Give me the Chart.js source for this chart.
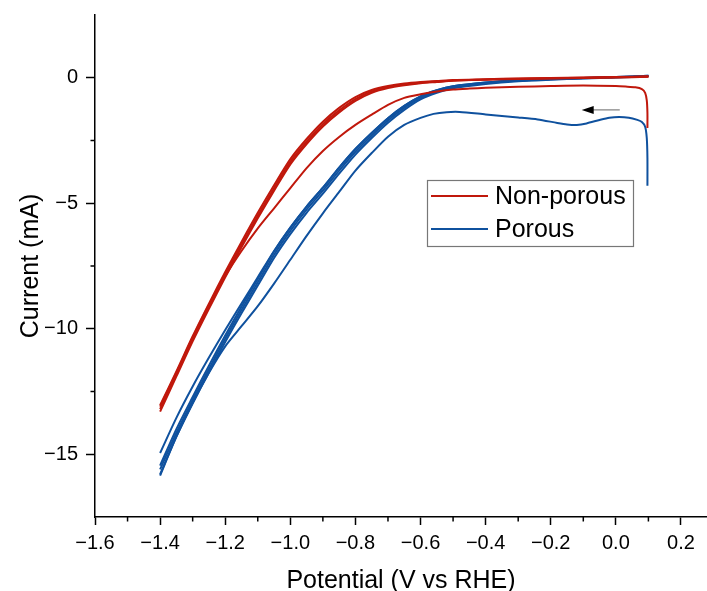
<!DOCTYPE html>
<html>
<head>
<meta charset="utf-8">
<script src="https://cdn.jsdelivr.net/npm/chart.js@4/dist/chart.umd.min.js"></script>
<style>
  html, body { margin: 0; padding: 0; background: #fff; overflow: hidden; }
</style>
</head>
<body>
<canvas id="cvChart" width="707" height="591"></canvas>
<script>
// ---- data (potential in V vs RHE, current in mA) ----
const seriesNames = ["Non-porous", "Porous"];

const xTicks = [-1.6, -1.4, -1.2, -1.0, -0.8, -0.6, -0.4, -0.2, 0.0, 0.2];
const xMinor = [-1.5, -1.3, -1.1, -0.9, -0.7, -0.5, -0.3, -0.1, 0.1];
const yTicks = [0, -5, -10, -15];
const yMinor = [-2.5, -7.5, -12.5];

// common potential grid for the repeated cycles
const sweepV = [0.1, 0.0, -0.1, -0.2, -0.3, -0.4, -0.5, -0.55, -0.6, -0.65, -0.7, -0.75,
  -0.8, -0.85, -0.9, -0.95, -1.0, -1.05, -1.1, -1.15, -1.2, -1.25, -1.3, -1.35, -1.4];

// Non-porous, later cycles
const redCycleA = [0.05, 0.02, 0.0, -0.02, -0.04, -0.07, -0.11, -0.15, -0.2, -0.27, -0.37, -0.55,
  -0.85, -1.3, -1.85, -2.55, -3.35, -4.4, -5.5, -6.65, -7.85, -9.1, -10.4, -11.8, -13.2];
const redCycleB = [0.06, 0.03, 0.01, -0.01, -0.03, -0.06, -0.09, -0.13, -0.17, -0.23, -0.33, -0.49,
  -0.77, -1.2, -1.75, -2.44, -3.24, -4.28, -5.38, -6.54, -7.74, -9.0, -10.3, -11.7, -13.05];
const redCycleC = [0.04, 0.01, -0.01, -0.03, -0.05, -0.08, -0.12, -0.17, -0.22, -0.3, -0.41, -0.6,
  -0.92, -1.38, -1.94, -2.64, -3.45, -4.5, -5.6, -6.75, -7.95, -9.2, -10.5, -11.9, -13.3];

// Non-porous, first scan
const redFirstV = [0.097, 0.097, 0.095, 0.09, 0.08, 0.06, 0.03, 0.0, -0.1, -0.2, -0.3, -0.4, -0.45,
  -0.5, -0.55, -0.6, -0.65, -0.7, -0.75, -0.8, -0.85, -0.9, -0.95, -1.0, -1.05, -1.1, -1.15,
  -1.2, -1.25, -1.3, -1.35, -1.4];
const redFirstI = [-2.0, -1.4, -0.9, -0.6, -0.45, -0.38, -0.35, -0.33, -0.31, -0.33, -0.36, -0.4, -0.43,
  -0.47, -0.55, -0.66, -0.8, -1.08, -1.47, -1.88, -2.36, -2.92, -3.6, -4.4, -5.2, -6.0, -6.9,
  -7.9, -9.05, -10.35, -11.75, -13.1];

// Porous, later cycles
const blueCycleA = [0.07, 0.02, -0.02, -0.06, -0.12, -0.22, -0.38, -0.55, -0.8, -1.2, -1.7, -2.3,
  -2.95, -3.7, -4.5, -5.25, -6.1, -7.05, -8.15, -9.25, -10.4, -11.6, -12.85, -14.15, -15.6];
const blueCycleB = [0.08, 0.03, -0.01, -0.05, -0.1, -0.19, -0.34, -0.5, -0.74, -1.12, -1.61, -2.2,
  -2.84, -3.58, -4.38, -5.13, -5.97, -6.92, -8.02, -9.12, -10.27, -11.47, -12.72, -14.0, -15.45];
const blueCycleC = [0.06, 0.01, -0.03, -0.08, -0.14, -0.25, -0.42, -0.6, -0.86, -1.28, -1.79, -2.4,
  -3.06, -3.82, -4.62, -5.38, -6.23, -7.18, -8.28, -9.38, -10.53, -11.73, -12.98, -14.3, -15.85];
const blueReturn = [0.08, 0.03, -0.01, -0.05, -0.1, -0.19, -0.34, -0.5, -0.74, -1.12, -1.61, -2.2,
  -2.84, -3.58, -4.38, -5.13, -5.97, -6.9, -7.95, -9.0, -10.05, -11.15, -12.3, -13.55, -14.95];

// Porous, first scan
const blueFirstV = [0.097, 0.097, 0.095, 0.09, 0.08, 0.066, 0.04, 0.01, -0.02, -0.05, -0.09, -0.12,
  -0.15, -0.18, -0.24, -0.3, -0.4, -0.48, -0.52, -0.56, -0.6, -0.65, -0.7, -0.75, -0.8, -0.85,
  -0.9, -0.95, -1.0, -1.05, -1.1, -1.15, -1.2, -1.25, -1.3, -1.35, -1.4];
const blueFirstI = [-4.3, -3.2, -2.4, -1.95, -1.76, -1.68, -1.59, -1.56, -1.59, -1.68, -1.82, -1.88,
  -1.86, -1.8, -1.66, -1.58, -1.46, -1.36, -1.37, -1.44, -1.6, -1.88, -2.35, -3.0, -3.7, -4.55,
  -5.4, -6.3, -7.25, -8.2, -9.1, -9.9, -10.7, -11.75, -12.95, -14.3, -15.8];

// scan direction arrow (start, end) in data units
const arrowFrom = [0.012, -1.28];
const arrowTo = [-0.105, -1.28];

const RED = "#c0180c";
const BLUE = "#0f519e";

const toPts = (xs, ys) => xs.map((v, i) => ({ x: v, y: ys[i] }));
const minus = (s) => s.replace("-", "\u2212");

const line = (data, color, group) => ({
  label: group,
  data,
  borderColor: color,
  borderWidth: 2,
  pointRadius: 0,
  fill: false,
  tension: 0.25,
});

const datasets = [
  line(toPts(sweepV, redCycleA), RED, seriesNames[0]),
  line(toPts(sweepV, redCycleB), RED, seriesNames[0]),
  line(toPts(sweepV, redCycleC), RED, seriesNames[0]),
  line(toPts(redFirstV, redFirstI), RED, seriesNames[0]),
  line(toPts(sweepV, blueCycleA), BLUE, seriesNames[1]),
  line(toPts(sweepV, blueCycleB), BLUE, seriesNames[1]),
  line(toPts(sweepV, blueCycleC), BLUE, seriesNames[1]),
  line(toPts(sweepV, blueReturn), BLUE, seriesNames[1]),
  line(toPts(blueFirstV, blueFirstI), BLUE, seriesNames[1]),
];

// minor tick marks on both axes
const minorTicks = {
  id: "minorTicks",
  afterDraw(chart) {
    const { ctx, chartArea: a, scales: { x, y } } = chart;
    ctx.save();
    ctx.strokeStyle = "#000";
    ctx.lineWidth = 1.5;
    ctx.beginPath();
    xMinor.forEach((v) => {
      const p = x.getPixelForValue(v);
      ctx.moveTo(p, a.bottom);
      ctx.lineTo(p, a.bottom + 4.5);
    });
    yMinor.forEach((v) => {
      const p = y.getPixelForValue(v);
      ctx.moveTo(a.left, p);
      ctx.lineTo(a.left - 4.5, p);
    });
    ctx.stroke();
    ctx.restore();
  },
};

// arrow showing scan direction
const scanArrow = {
  id: "scanArrow",
  afterDatasetsDraw(chart) {
    const { ctx, scales: { x, y } } = chart;
    const x0 = x.getPixelForValue(arrowFrom[0]), y0 = y.getPixelForValue(arrowFrom[1]);
    const x1 = x.getPixelForValue(arrowTo[0]), y1 = y.getPixelForValue(arrowTo[1]);
    ctx.save();
    ctx.strokeStyle = "#888";
    ctx.lineWidth = 1.3;
    ctx.beginPath();
    ctx.moveTo(x0, y0);
    ctx.lineTo(x1 + 8, y1);
    ctx.stroke();
    ctx.fillStyle = "#000";
    ctx.beginPath();
    ctx.moveTo(x1, y1);
    ctx.lineTo(x1 + 12, y1 - 4);
    ctx.lineTo(x1 + 12, y1 + 4);
    ctx.closePath();
    ctx.fill();
    ctx.restore();
  },
};

// boxed legend inside the plot
const boxLegend = {
  id: "boxLegend",
  afterDraw(chart) {
    const { ctx, chartArea: a } = chart;
    const left = a.left + 332, top = a.top + 165, w = 206, h = 66;
    ctx.save();
    ctx.fillStyle = "#fff";
    ctx.fillRect(left, top, w, h);
    ctx.strokeStyle = "#777";
    ctx.lineWidth = 1.2;
    ctx.strokeRect(left + 0.5, top + 0.5, w, h);
    ctx.font = '25px "Liberation Sans", Arial, sans-serif';
    ctx.textBaseline = "middle";
    ctx.fillStyle = "#000";
    [RED, BLUE].forEach((c, i) => {
      const yy = top + 16 + i * 33;
      ctx.strokeStyle = c;
      ctx.lineWidth = 2;
      ctx.beginPath();
      ctx.moveTo(left + 4, yy);
      ctx.lineTo(left + 61, yy);
      ctx.stroke();
      ctx.fillText(seriesNames[i], left + 68, yy + 1);
    });
    ctx.restore();
  },
};

const tickFont = { family: '"Liberation Sans", Arial, sans-serif', size: 20 };
const titleFont = { family: '"Liberation Sans", Arial, sans-serif', size: 25 };

new Chart(document.getElementById("cvChart"), {
  type: "line",
  data: { datasets },
  options: {
    responsive: false,
    animation: false,
    devicePixelRatio: 1,
    layout: { padding: { top: 15, right: 0, left: 0, bottom: 0 } },
    plugins: { legend: { display: false }, tooltip: { enabled: false } },
    scales: {
      x: {
        type: "linear",
        min: -1.6,
        max: 0.28,
        afterBuildTicks: (s) => { s.ticks = xTicks.map((v) => ({ value: v })); },
        afterFit: (s) => { s.height = 74; },
        ticks: {
          color: "#000",
          font: tickFont,
          padding: 6,
          maxRotation: 0,
          autoSkip: false,
          callback: (v) => minus(Number(v).toFixed(1)),
        },
        grid: { drawOnChartArea: false, tickLength: 8, tickColor: "#000", tickWidth: 1.5 },
        border: { display: true, color: "#000", width: 1.5 },
        title: {
          display: true,
          text: "Potential (V vs RHE)",
          color: "#000",
          font: titleFont,
          padding: { top: 0, bottom: -5 },
        },
      },
      y: {
        type: "linear",
        min: -17.5,
        max: 2.5,
        afterBuildTicks: (s) => { s.ticks = yTicks.map((v) => ({ value: v })); },
        afterFit: (s) => { s.width = 95; s.paddingTop = 0; s.paddingBottom = 0; },
        ticks: {
          color: "#000",
          font: tickFont,
          padding: 8,
          callback: (v) => minus(String(v)),
        },
        grid: { drawOnChartArea: false, tickLength: 9, tickColor: "#000", tickWidth: 1.5 },
        border: { display: true, color: "#000", width: 1.5 },
        title: {
          display: true,
          text: "Current (mA)",
          color: "#000",
          font: titleFont,
          padding: { top: 16, bottom: 0 },
        },
      },
    },
  },
  plugins: [minorTicks, scanArrow, boxLegend],
});
</script>
</body>
</html>
